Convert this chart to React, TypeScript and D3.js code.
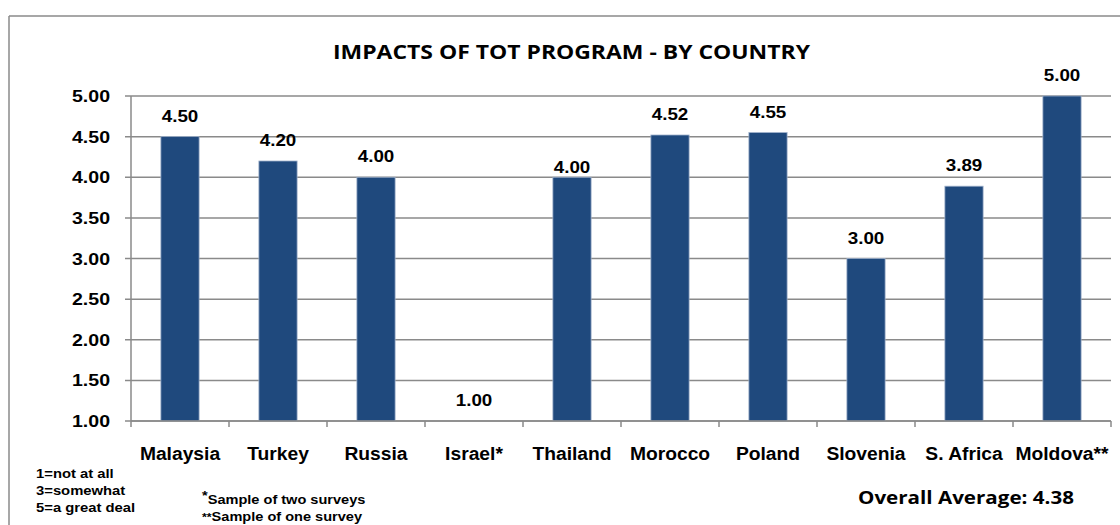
import React from "react";
import * as d3 from "d3";

const categories = ["Malaysia", "Turkey", "Russia", "Israel*", "Thailand", "Morocco", "Poland", "Slovenia", "S. Africa", "Moldova**"];
const values = [4.5, 4.2, 4.0, 1.0, 4.0, 4.52, 4.55, 3.0, 3.89, 5.0];
const yTicks = [1, 1.5, 2, 2.5, 3, 3.5, 4, 4.5, 5];
const scaleNotes = ["1=not at all", "3=somewhat", "5=a great deal"];
const footnotes = [
  { stars: "*", text: "Sample of two surveys" },
  { stars: "**", text: "Sample of one survey" },
];
const titleText = "IMPACTS OF TOT PROGRAM - BY COUNTRY";
const averageText = "Overall Average: 4.38";

const W = 1120;
const H = 525;
const left = 131;
const right = 1111;
const top = 96;
const bottom = 421;
const grid = "#8a8a8a";
const barColor = "#1f497d";
const arial = "'Liberation Sans', Arial, sans-serif";
const calibri = "'Open Sans', Lato, sans-serif";

export default function App() {
  const x = d3.scaleBand<string>().domain(categories).range([left, right]).padding(0);
  const y = d3.scaleLinear().domain([1, 5]).range([bottom, top]);
  const bw = x.bandwidth() * 0.39;

  return (
    <svg width={W} height={H} style={{ position: "absolute", left: 0, top: 0, background: "#fff" }}>
      <rect x={0} y={0} width={W} height={H} fill="#fff" />
      {/* outer border */}
      <line x1={9} y1={16} x2={W} y2={16} stroke={grid} strokeWidth={1.5} />
      <line x1={9} y1={16} x2={9} y2={H} stroke={grid} strokeWidth={1.5} />

      <text
        x={(333 + 810) / 2}
        y={59}
        textAnchor="middle"
        fontFamily={calibri}
        fontWeight={700}
        fontSize={19.5}
        textLength={477}
        lengthAdjust="spacingAndGlyphs"
        fill="#000"
      >
        {titleText}
      </text>

      {/* gridlines */}
      {yTicks.map((t) => (
        <g key={t}>
          <line x1={left - 6} x2={right} y1={y(t)} y2={y(t)} stroke={grid} strokeWidth={1.5} />
          <text
            transform={`translate(110,${y(t) + 6}) scale(1.15,1)`}
            textAnchor="end"
            fontFamily={arial}
            fontWeight={700}
            fontSize={17}
            fill="#000"
          >
            {t.toFixed(2)}
          </text>
        </g>
      ))}
      <line x1={left} x2={left} y1={top} y2={bottom} stroke={grid} strokeWidth={1.5} />

      {/* bars */}
      {categories.map((c, i) => {
        const cx = (x(c) as number) + x.bandwidth() / 2;
        const yv = y(values[i]);
        const off = c === "Thailand" ? 4 : 15;
        return (
          <g key={c}>
            {values[i] > 1 && (
              <rect
                x={cx - bw / 2}
                y={yv}
                width={bw}
                height={bottom - yv}
                fill={barColor}
                stroke="#9fb1cb"
                strokeWidth={0.8}
              />
            )}
            <text
              transform={`translate(${cx},${yv - off}) scale(1.14,1)`}
              textAnchor="middle"
              fontFamily={arial}
              fontWeight={700}
              fontSize={16.5}
              fill="#000"
            >
              {values[i].toFixed(2)}
            </text>
            <text
              transform={`translate(${cx},460) scale(1.07,1)`}
              textAnchor="middle"
              fontFamily={arial}
              fontWeight={700}
              fontSize={18}
              fill="#000"
            >
              {c}
            </text>
          </g>
        );
      })}

      {/* x axis */}
      <line x1={left} x2={right} y1={bottom} y2={bottom} stroke={grid} strokeWidth={1.5} />
      {d3.range(categories.length + 1).map((k) => {
        const xx = left + k * x.bandwidth();
        return <line key={k} x1={xx} x2={xx} y1={bottom} y2={bottom + 6} stroke={grid} strokeWidth={1.5} />;
      })}

      {/* scale notes */}
      {scaleNotes.map((s, i) => (
        <text
          key={s}
          transform={`translate(36,${478 + i * 17}) scale(1.14,1)`}
          fontFamily={arial}
          fontWeight={700}
          fontSize={13}
          fill="#000"
        >
          {s}
        </text>
      ))}

      {/* footnotes */}
      {footnotes.map((f, i) => (
        <text
          key={f.text}
          transform={`translate(202,${504 + i * 17}) scale(1.12,1)`}
          fontFamily={arial}
          fontWeight={700}
          fontSize={13}
          fill="#000"
        >
          <tspan fontSize={i === 0 ? 13 : 11} dy={i === 0 ? -4 : 0}>{f.stars}</tspan>
          <tspan dy={i === 0 ? 4 : 0}>{f.text}</tspan>
        </text>
      ))}

      <text
        x={858}
        y={504}
        fontFamily={calibri}
        fontWeight={700}
        fontSize={18.5}
        textLength={216}
        lengthAdjust="spacingAndGlyphs"
        fill="#000"
      >
        {averageText}
      </text>
    </svg>
  );
}
